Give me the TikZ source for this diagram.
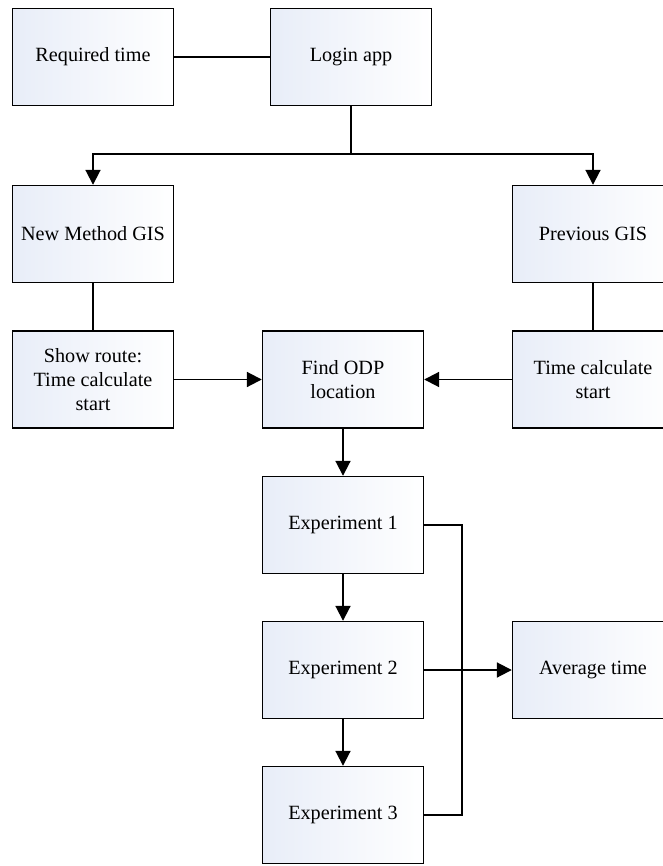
\documentclass[tikz,border=0pt]{standalone}
\usepackage{fontspec}
\setmainfont{Liberation Serif}
\usetikzlibrary{arrows.meta}

\definecolor{boxtint}{RGB}{232,237,248}

\begin{document}
\begin{tikzpicture}
    % Node styles
    \tikzstyle{stage} = [rectangle, draw, line width=0.8pt, minimum width=3.22cm, minimum height=1.94cm, align=center, font=\fontsize{11.5}{13.5}\selectfont, shading=axis, shading angle=135, left color=boxtint, right color=white]
    \tikzstyle{arrow} = [-{Triangle[length=8.5pt,width=8.5pt]}, line width=1.1pt]
    \tikzstyle{link} = [line width=1.1pt]

    \useasboundingbox (0,0) rectangle (13.26,-17.32);

    % Nodes
    \node (req_time) at (1.86, -1.14) [stage] {Required time};
    \node (login) at (7.02, -1.14) [stage] {Login app};
    \node (new_gis) at (1.86, -4.68) [stage] {New Method GIS};
    \node (prev_gis) at (11.86, -4.68) [stage] {Previous GIS};
    \node (route) at (1.86, -7.59) [stage] {Show route:\\Time calculate\\start};
    \node (odp) at (6.86, -7.59) [stage] {Find ODP\\location};
    \node (time_calc) at (11.86, -7.59) [stage] {Time calculate\\start};
    \node (exp_1) at (6.86, -10.5) [stage] {Experiment 1};
    \node (exp_2) at (6.86, -13.4) [stage] {Experiment 2};
    \node (exp_3) at (6.86, -16.3) [stage] {Experiment 3};
    \node (avg_time) at (11.86, -13.4) [stage] {Average time};

    \coordinate (split) at (7.02, -3.08);
    \coordinate (bus) at (9.24, -10.5);

    % Arrows
    \draw[link] (req_time) -- (login);
    \draw[link] (login) -- (split);
    \draw[arrow] (split) -| (new_gis);
    \draw[arrow] (split) -| (prev_gis);
    \draw[link] (new_gis) -- (route);
    \draw[link] (prev_gis) -- (time_calc);
    \draw[arrow] (route) -- (odp);
    \draw[arrow] (time_calc) -- (odp);
    \draw[arrow] (odp) -- (exp_1);
    \draw[arrow] (exp_1) -- (exp_2);
    \draw[arrow] (exp_2) -- (exp_3);
    \draw[link] (exp_1.east) -- (bus) |- (exp_3.east);
    \draw[arrow] (exp_2) -- (avg_time);

\end{tikzpicture}
\end{document}
